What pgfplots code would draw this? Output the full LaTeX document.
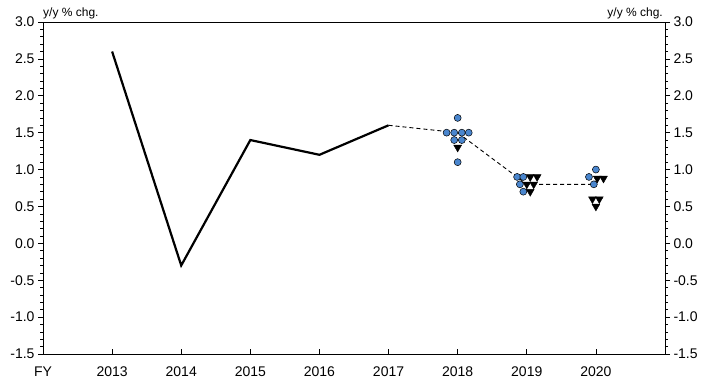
\documentclass[border=0pt]{standalone}
\usepackage{fontspec}
\setmainfont{Liberation Sans}
\usepackage{pgfplots}
\pgfplotsset{compat=1.18}
\definecolor{dotblue}{RGB}{74,134,206}
\begin{document}
\begin{tikzpicture}
\path[use as bounding box] (-43bp,-38bp) rectangle (673bp,354bp);
\pgfplotsset{
  base/.style={at={(0,0)}, anchor=south west, scale only axis,
    width=622bp, height=332bp, xmin=2012, xmax=2021, ymin=-1.5, ymax=3,
    tick label style={font=\fontsize{14bp}{16bp}\selectfont},
    /pgf/number format/assume math mode=true,
    major tick length=5bp, minor tick length=3bp,
    axis line style={black, line width=0.8bp},
    every tick/.style={black, line width=0.6bp}},
  yax/.style={base, hide x axis, ytick={-1.5,-1,-0.5,0,0.5,1,1.5,2,2.5,3},
    minor y tick num=4, tick align=outside,
    yticklabel style={/pgf/number format/.cd, fixed, fixed zerofill, precision=1}}
}
\begin{axis}[base, tick align=inside, ytick=\empty, xtick pos=bottom,
  xtick={2012,2013,2014,2015,2016,2017,2018,2019,2020},
  xticklabels={FY,2013,2014,2015,2016,2017,2018,2019,2020},
  xticklabel style={yshift=-9bp}, clip=false]
\addplot[black, line width=2.2bp, mark=none] coordinates {
  (2013,2.6) (2014,-0.3) (2015,1.4) (2016,1.2) (2017,1.6)};
\addplot[black, line width=0.9bp, dash pattern=on 4bp off 3bp, mark=none] coordinates {
  (2017,1.6) (2018,1.5) (2019,0.8) (2020,0.8)};
% forecast dots
\addplot[only marks, mark=*, mark size=3.5bp,
  mark options={fill=dotblue, draw=black, line width=0.5bp}] coordinates {
  (2018,1.7)
  (2017.84,1.5) (2017.95,1.5) (2018.06,1.5) (2018.16,1.5)
  (2017.95,1.4) (2018.06,1.4)
  (2018,1.1)
  (2018.86,0.9) (2018.95,0.9)
  (2018.9,0.8)
  (2018.95,0.7)
  (2020,1.0)
  (2019.9,0.9)
  (2019.97,0.8)
};
% triangles
\addplot[only marks, mark=triangle*, mark size=4.5bp,
  mark options={rotate=180, fill=black, draw=black, line width=0.4bp}] coordinates {
  (2018,1.3)
  (2019.05,0.9) (2019.15,0.9)
  (2019.0,0.8) (2019.1,0.8)
  (2019.05,0.7)
  (2020.02,0.88) (2020.11,0.88)
  (2019.95,0.6) (2020.05,0.6)
  (2020,0.5)
};
\node[anchor=south west, inner sep=0pt, font=\fontsize{12bp}{14bp}\selectfont, yshift=3bp]
  at (rel axis cs:0,1) {y/y \% chg.};
\node[anchor=south east, inner sep=0pt, font=\fontsize{12bp}{14bp}\selectfont, yshift=3bp, xshift=-2bp]
  at (rel axis cs:1,1) {y/y \% chg.};
\end{axis}
\begin{axis}[yax, axis y line*=left]
\end{axis}
\begin{axis}[yax, axis y line*=right]
\end{axis}
\end{tikzpicture}
\end{document}
